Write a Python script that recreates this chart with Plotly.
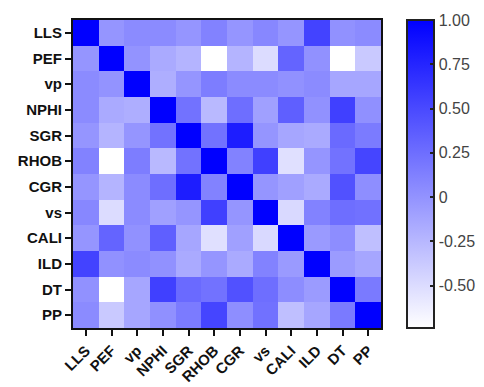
import plotly.graph_objects as go

labels = ["LLS", "PEF", "vp", "NPHI", "SGR", "RHOB", "CGR", "vs", "CALI", "ILD", "DT", "PP"]

row_LLS  = [1.00, -0.02, 0.05, 0.05, -0.02, 0.11, -0.02, 0.08, -0.02, 0.54, 0.01, 0.05]
row_PEF  = [-0.02, 1.00, 0.00, -0.16, -0.23, -0.74, -0.23, -0.50, 0.32, 0.01, -0.74, -0.37]
row_vp   = [0.05, 0.00, 1.00, -0.19, -0.02, 0.15, 0.05, 0.05, 0.01, 0.05, -0.13, -0.13]
row_NPHI = [0.05, -0.16, -0.19, 1.00, 0.22, -0.26, 0.25, -0.09, 0.35, 0.01, 0.56, 0.02]
row_SGR  = [-0.02, -0.23, -0.02, 0.22, 1.00, 0.22, 0.80, -0.02, -0.13, -0.16, 0.28, 0.16]
row_RHOB = [0.11, -0.74, 0.15, -0.26, 0.22, 1.00, 0.11, 0.56, -0.53, -0.02, 0.22, 0.53]
row_CGR  = [-0.02, -0.23, 0.05, 0.25, 0.80, 0.11, 1.00, -0.02, -0.09, -0.16, 0.45, 0.03]
row_vs   = [0.08, -0.50, 0.05, -0.09, -0.02, 0.56, -0.02, 1.00, -0.48, 0.11, 0.25, 0.23]
row_CALI = [-0.02, 0.32, 0.01, 0.35, -0.13, -0.53, -0.09, -0.48, 1.00, -0.05, 0.04, -0.30]
row_ILD  = [0.54, 0.01, 0.05, 0.01, -0.16, -0.02, -0.16, 0.11, -0.05, 1.00, -0.06, -0.13]
row_DT   = [0.01, -0.74, -0.13, 0.56, 0.28, 0.22, 0.45, 0.25, 0.04, -0.06, 1.00, 0.17]
row_PP   = [0.05, -0.37, -0.13, 0.02, 0.16, 0.53, 0.03, 0.23, -0.30, -0.13, 0.17, 1.00]

z = [row_LLS, row_PEF, row_vp, row_NPHI, row_SGR, row_RHOB, row_CGR,
     row_vs, row_CALI, row_ILD, row_DT, row_PP]

cbar_vals = [1.0, 0.75, 0.5, 0.25, 0.0, -0.25, -0.5]
cbar_text = ["1.00", "0.75", "0.50", "0.25", "0", "-0.25", "-0.50"]
zmin, zmax = -0.74, 1.0

fig = go.Figure(go.Heatmap(
    z=z, x=labels, y=labels,
    zmin=zmin, zmax=zmax,
    colorscale=[[0, "#ffffff"], [1, "#0000ff"]],
    xgap=0, ygap=0,
    colorbar=dict(
        x=1.084, xanchor="left", y=0.5, yanchor="middle",
        len=1.0, lenmode="fraction",
        thickness=27, thicknessmode="pixels",
        outlinecolor="#222", outlinewidth=2,
        tickvals=cbar_vals, ticktext=cbar_text,
        ticks="inside", ticklen=5, tickwidth=2, tickcolor="#222",
        tickfont=dict(family="Arial", size=16, color="#444"),
        xpad=0, ypad=0,
    ),
))

axis_common = dict(
    showline=True, linecolor="#111", linewidth=2, mirror=True,
    ticks="outside", ticklen=6, tickwidth=2, tickcolor="#111",
    tickfont=dict(family="Arial", size=15, color="#111", weight="bold"),
    showgrid=False, zeroline=False,
)

fig.update_xaxes(tickangle=-45, **axis_common)
fig.update_yaxes(autorange="reversed", **axis_common)

fig.update_layout(
    width=484, height=387,
    margin=dict(l=59, r=105, t=10, b=57),
    paper_bgcolor="white", plot_bgcolor="white",
)

fig.write_html("out.html")
